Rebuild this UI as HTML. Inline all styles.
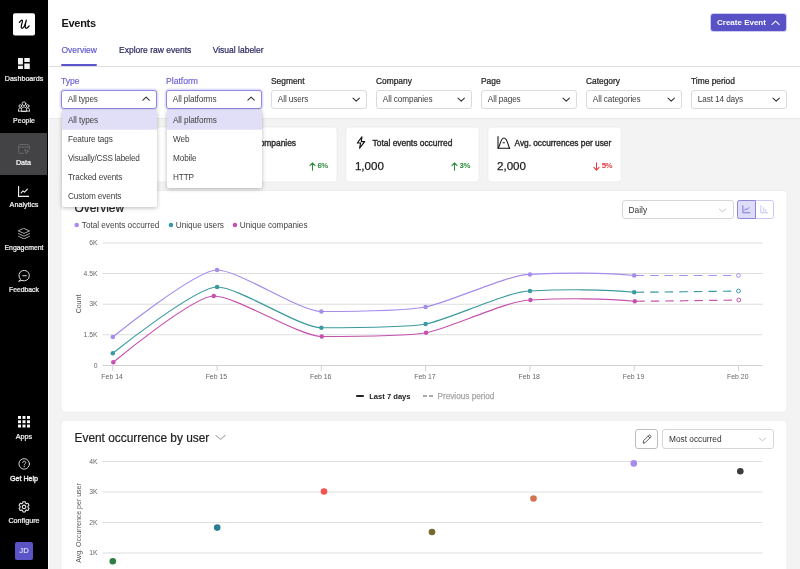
<!DOCTYPE html>
<html>
<head>
<meta charset="utf-8">
<title>Events</title>
<style>
*{box-sizing:border-box;margin:0;padding:0}
html,body{width:800px;height:569px;overflow:hidden}
body{font-family:"Liberation Sans",sans-serif;background:#f3f3f3;color:#222;position:relative;font-size:8.5px}
#wrap{position:absolute;left:0;top:0;width:800px;height:569px;overflow:hidden;will-change:transform}
.abs{position:absolute}
.t{position:absolute;white-space:nowrap;line-height:1}
/* sidebar */
#side{position:absolute;left:0;top:0;width:48px;height:569px;background:#000}
#side .lbl{position:absolute;left:0;width:48px;text-align:center;color:#f4f4f4;font-size:7.2px;line-height:10px;white-space:nowrap;-webkit-text-stroke:0.22px #f4f4f4}
#side svg{position:absolute}
/* header */
#head{position:absolute;left:48px;top:0;width:752px;height:118px;background:#fff}
#tabline{position:absolute;left:48px;top:66px;width:752px;height:1px;background:#dedede}
.flabel{position:absolute;top:75.6px;font-size:8.4px;line-height:10px;color:#222;font-weight:400;-webkit-text-stroke:0.22px #222;letter-spacing:0;white-space:nowrap}
.sel{position:absolute;top:90px;width:96px;height:18.5px;border:1px solid #dadadf;border-radius:3px;background:#fff}
.sel span{position:absolute;left:5.8px;top:4.2px;font-size:8.2px;letter-spacing:-0.1px;line-height:10px;color:#3d3d3d;white-space:nowrap}
.sel svg{position:absolute;right:5.8px;top:5.7px}
.sel.open{border-color:#8f88e6;border-radius:3px;box-shadow:0 0 0 1.5px rgba(150,142,235,.28)}
.dd{position:absolute;top:110px;width:96px;background:#fff;border-radius:2px;box-shadow:0 1px 4px rgba(0,0,0,.28)}
.dd div{height:19px;padding-left:6px;padding-top:1px;font-size:8.2px;letter-spacing:-0.1px;line-height:19px;color:#3d3d3d;white-space:nowrap}
.dd div.hl{background:#e0dff7;box-shadow:0 0.7px 0 #e0dff7}
/* cards */
.card{position:absolute;top:127px;width:133.5px;height:55px}
.card .ct{position:absolute;left:27px;top:10.8px;font-size:8.45px;font-weight:400;-webkit-text-stroke:0.36px #2a2a2a;letter-spacing:-0.02px;line-height:10px;color:#2a2a2a;white-space:nowrap}
.card .cv{position:absolute;left:9.3px;top:33.4px;font-size:11.6px;line-height:12px;color:#1e1e1e;-webkit-text-stroke:0.25px #1e1e1e;letter-spacing:0;white-space:nowrap}
.card .cp{position:absolute;right:9.2px;top:34.3px;font-size:7.8px;font-weight:700;line-height:9px;letter-spacing:-0.45px;white-space:nowrap}
.card svg{position:absolute}
.panel{position:absolute;left:61px;width:726px;background:#fff;border-radius:4px;box-shadow:0 0 2px rgba(0,0,0,.06)}
.ptitle{position:absolute;left:74.5px;font-size:11.9px;line-height:14px;color:#222;-webkit-text-stroke:0.2px #222;white-space:nowrap}
.box{position:absolute;border:1px solid #d6d6d6;border-radius:3px;background:#fff}
</style>
</head>
<body>
<div id="wrap">
<!-- SIDEBAR -->
<div id="side">
  
  <svg style="left:13px;top:13px" width="22" height="23" viewBox="0 0 22 23"><rect x="0" y="0.200" width="22" height="22.300" rx="2" fill="#fff"/><path d="M6.400 9.400C7.200 8.100 8.300 7 9.050 7.150C9.800 7.350 9.300 9 8.900 10.500C8.350 12.500 7.600 15.250 9.150 15.250C10.800 15.250 12.400 11 13.300 7.200C12.600 10 11.400 15.250 13.200 15.250C14.400 15.250 15.400 14.100 16.100 12.900" fill="none" stroke="#0a0a0a" stroke-width="1.250" stroke-linecap="round" stroke-linejoin="round"/></svg>

  <div class="abs" style="left:0;top:133px;width:47px;height:42px;background:#434345"></div>
  <!-- dashboards -->
  <svg style="left:18px;top:58.200px" width="11.800" height="11.300" viewBox="0 0 12 11.5"><path d="M0 0h5v6.600h-5zM6.400 0h5.600v4.100h-5.600zM0 8h5v3.500h-5zM6.400 5.500h5.600v6h-5.600z" fill="#f4f4f4"/></svg>
  <div class="lbl" style="top:74px;font-size:7.150px">Dashboards</div>
  <!-- people -->
  <svg style="left:18px;top:101.300px" width="12" height="10.700" viewBox="0 0 13 11.5"><g fill="none" stroke="#e9e9e9" stroke-width="0.950" stroke-linejoin="round" stroke-linecap="round"><circle cx="6.500" cy="2.900" r="2"/><circle cx="2.500" cy="5.400" r="1.450"/><circle cx="10.500" cy="5.400" r="1.450"/><path d="M3.700 10.900v-1.500c0-1.900 1.100-3 2.800-3s2.800 1.100 2.800 3v1.500z"/><path d="M0.600 10.900v-1.500c0-1.200.8-1.900 1.900-1.900.5 0 .9.100 1.200.300M12.400 10.900v-1.500c0-1.200-.8-1.900-1.900-1.900-.5 0-.9.100-1.200.300M0.600 10.900h11.800"/></g></svg>
  <div class="lbl" style="top:116px;font-size:7px">People</div>
  <!-- data -->
  <svg style="left:18px;top:144.200px" width="12" height="10.400" viewBox="0 0 13 11.5"><g fill="none" stroke="#707072" stroke-width="0.900" stroke-linejoin="round" stroke-linecap="round"><path d="M6 10.300H1.800c-.7 0-1.200-.5-1.200-1.200V1.800C.6 1.100 1.100.6 1.800.6h9.400c.7 0 1.200.5 1.200 1.200v4M.6 3.400h11.800"/><path d="M7.600 6.300l4.300 1.700-1.900.7-.7 1.900z"/></g></svg>
  <div class="lbl" style="top:158px;left:-0.500px;color:#fff">Data</div>
  <!-- analytics -->
  <svg style="left:17.900px;top:185.600px" width="11.400" height="11" viewBox="0 0 12 11.5"><g fill="none" stroke="#f2f2f2" stroke-width="1.200" stroke-linejoin="round" stroke-linecap="round"><path d="M0.600 0.500V10.900H11.500"/><path d="M3.300 7.300l2-2.200 1.600 1.300 3-3.100"/></g></svg>
  <div class="lbl" style="top:200px">Analytics</div>
  <!-- engagement -->
  <svg style="left:18px;top:227.500px" width="12" height="11.500" viewBox="0 0 12 11.5"><g fill="none" stroke="#c4c4c4" stroke-width="0.850" stroke-linejoin="round" stroke-linecap="round"><path d="M6 0.500L11.500 2.950L6 5.400L0.500 2.950z"/><path d="M0.500 5.600L6 8.200L11.500 5.600"/><path d="M0.500 8.300L6 10.900L11.500 8.300"/></g></svg>
  <div class="lbl" style="top:243px;font-size:6.900px">Engagement</div>
  <!-- feedback -->
  <svg style="left:17.800px;top:269.900px" width="12.900" height="11.900" viewBox="0 0 13 12"><g fill="none" stroke="#e6e6e6" stroke-width="0.950" stroke-linejoin="round" stroke-linecap="round"><path d="M2.300 9.300A5.300 5.300 0 1 1 4 10.500L1 11.300z"/><path d="M4.800 5.800h3.600"/></g></svg>
  <div class="lbl" style="top:285px;font-size:6.800px">Feedback</div>
  <!-- apps -->
  <svg style="left:18px;top:416.300px" width="12" height="11.500" viewBox="0 0 12 11.5"><g fill="#fafafa"><rect x="0" y="0" width="3" height="2.900"/><rect x="4.500" y="0" width="3" height="2.900"/><rect x="9" y="0" width="3" height="2.900"/><rect x="0" y="4.300" width="3" height="2.900"/><rect x="4.500" y="4.300" width="3" height="2.900"/><rect x="9" y="4.300" width="3" height="2.900"/><rect x="0" y="8.600" width="3" height="2.900"/><rect x="4.500" y="8.600" width="3" height="2.900"/><rect x="9" y="8.600" width="3" height="2.900"/></g></svg>
  <div class="lbl" style="top:432px">Apps</div>
  <!-- get help -->
  <svg style="left:17.800px;top:458.400px" width="12.400" height="12.400" viewBox="0 0 13 13"><g fill="none" stroke="#e6e6e6" stroke-width="0.950" stroke-linecap="round" stroke-linejoin="round"><circle cx="6.500" cy="6.200" r="5.500"/><path d="M4.900 4.900c0-1 .7-1.600 1.600-1.600s1.600.6 1.600 1.500c0 1.200-1.600 1.300-1.600 2.600"/></g><circle cx="6.500" cy="9" r="0.650" fill="#e6e6e6"/></svg>
  <div class="lbl" style="top:474px;font-size:7.100px;-webkit-text-stroke:0.350px #f4f4f4">Get Help</div>
  <!-- configure -->
  <svg style="left:17.900px;top:500.800px" width="12.100" height="12.100" viewBox="0 0 13 13"><g fill="none" stroke="#ececec" stroke-width="1.150" stroke-linejoin="round"><path d="M5.300 0.800h2.400l.4 1.500 1 .6 1.500-.4 1.200 2.100-1.100 1.100v1.200l1.100 1.100-1.200 2.100-1.500-.4-1 .6-.4 1.500H5.300l-.4-1.500-1-.6-1.500.4-1.200-2.100 1.100-1.100V5.700L1.200 4.600l1.200-2.100 1.500.4 1-.6z"/><circle cx="6.500" cy="6.300" r="1.900"/></g></svg>
  <div class="lbl" style="top:516px">Configure</div>
  <!-- avatar -->
  <div class="abs" style="left:15.200px;top:542.300px;width:17.600px;height:17.400px;border-radius:2px;background:#5a54c6"></div>
  <div class="lbl" style="top:546px;font-size:7.700px;color:#fff;-webkit-text-stroke:0">JD</div>
</div>
<!-- HEADER -->
<div id="head"></div>
<div id="tabline"></div>
<div class="abs" style="left:49px;top:118px;width:751px;height:1px;background:#e9e9e9"></div>
<div class="abs" style="left:48px;top:0;width:1px;height:569px;background:#fdfdfd"></div>

<div class="t" style="left:61.500px;top:16.700px;font-size:11px;font-weight:700;letter-spacing:-0.300px;line-height:12px;color:#151515">Events</div>
<!-- create event button -->
<div class="abs" style="left:710.500px;top:14px;width:75.500px;height:17px;border-radius:2.500px;background:#5852c6;box-shadow:0 0 0 1px #cfccf3"></div>
<div class="t" style="left:717px;top:18.300px;font-size:8px;font-weight:700;color:#fff;line-height:9px">Create Event</div>
<svg class="abs" style="left:771.300px;top:20px" width="9.200" height="5.500" viewBox="0 0 10 6"><path d="M1 5L5 1.200L9 5" fill="none" stroke="#fff" stroke-width="1.100" stroke-linecap="round" stroke-linejoin="round"/></svg>
<!-- tabs -->
<div class="t" style="left:61.500px;top:44.800px;font-size:8.500px;line-height:10px;color:#5d55cc;-webkit-text-stroke:0.150px #5d55cc">Overview</div>
<div class="t" style="left:119px;top:44.800px;font-size:8.500px;line-height:10px;color:#2b2960;-webkit-text-stroke:0.200px #2b2960">Explore raw events</div>
<div class="t" style="left:212.700px;top:44.800px;font-size:8.500px;line-height:10px;color:#2b2960;-webkit-text-stroke:0.200px #2b2960">Visual labeler</div>
<div class="abs" style="left:61px;top:64px;width:35.500px;height:2px;background:#5d55cc;border-radius:1px"></div>
<svg class="abs" style="left:0;top:0" width="800" height="569" viewBox="0 0 800 569"><g fill="#fff" stroke="#eaeaea" stroke-width="0.800"><rect x="61" y="190.500" width="726" height="221.600" rx="4"/><rect x="61" y="420.200" width="726" height="170" rx="4"/><rect x="61.5" y="127" width="133.500" height="55" rx="3.500"/><rect x="203.6" y="127" width="133.500" height="55" rx="3.500"/><rect x="345.7" y="127" width="133.500" height="55" rx="3.500"/><rect x="487.8" y="127" width="133.500" height="55" rx="3.500"/></g></svg>
<!-- filter labels -->
<div class="flabel" style="left:61px;color:#6a60d4;-webkit-text-stroke:0.150px #6a60d4;font-size:8.600px">Type</div>
<div class="flabel" style="left:166px;color:#6a60d4;-webkit-text-stroke:0.150px #6a60d4;font-size:8.600px">Platform</div>
<div class="flabel" style="left:271px">Segment</div>
<div class="flabel" style="left:376px">Company</div>
<div class="flabel" style="left:481px">Page</div>
<div class="flabel" style="left:586px">Category</div>
<div class="flabel" style="left:691px">Time period</div>
<!-- selects -->
<div class="sel open" style="left:61px"><span>All types</span><svg width="8.200" height="5.200" viewBox="0 0 9 6" style="top:4.600px;right:5.700px"><path d="M0.800 4.800L4.500 1.300L8.200 4.800" fill="none" stroke="#333" stroke-width="1.250" stroke-linecap="round" stroke-linejoin="round"/></svg></div>
<div class="sel open" style="left:166px"><span>All platforms</span><svg width="8.200" height="5.200" viewBox="0 0 9 6" style="top:4.600px;right:5.700px"><path d="M0.800 4.800L4.500 1.300L8.200 4.800" fill="none" stroke="#333" stroke-width="1.250" stroke-linecap="round" stroke-linejoin="round"/></svg></div>
<div class="sel" style="left:271px"><span>All users</span><svg width="8.400" height="5.200" viewBox="0 0 9 6" style="top:5.500px;right:5.600px"><path d="M0.800 1.200L4.500 4.700L8.200 1.200" fill="none" stroke="#333" stroke-width="1.250" stroke-linecap="round" stroke-linejoin="round"/></svg></div>
<div class="sel" style="left:376px"><span>All companies</span><svg width="8.400" height="5.200" viewBox="0 0 9 6" style="top:5.500px;right:5.600px"><path d="M0.800 1.200L4.500 4.700L8.200 1.200" fill="none" stroke="#333" stroke-width="1.250" stroke-linecap="round" stroke-linejoin="round"/></svg></div>
<div class="sel" style="left:481px"><span>All pages</span><svg width="8.400" height="5.200" viewBox="0 0 9 6" style="top:5.500px;right:5.600px"><path d="M0.800 1.200L4.500 4.700L8.200 1.200" fill="none" stroke="#333" stroke-width="1.250" stroke-linecap="round" stroke-linejoin="round"/></svg></div>
<div class="sel" style="left:586px"><span>All categories</span><svg width="8.400" height="5.200" viewBox="0 0 9 6" style="top:5.500px;right:5.600px"><path d="M0.800 1.200L4.500 4.700L8.200 1.200" fill="none" stroke="#333" stroke-width="1.250" stroke-linecap="round" stroke-linejoin="round"/></svg></div>
<div class="sel" style="left:691px"><span>Last 14 days</span><svg width="8.400" height="5.200" viewBox="0 0 9 6" style="top:5.500px;right:5.600px"><path d="M0.800 1.200L4.500 4.700L8.200 1.200" fill="none" stroke="#333" stroke-width="1.250" stroke-linecap="round" stroke-linejoin="round"/></svg></div>

<div class="card" style="left:61.4px"><div class="ct">Unique users</div><div class="cv">1,000</div><div class="cp" style="color:#2f8a3c">5%</div><svg style="right:19px;top:34.500px" width="7" height="9" viewBox="0 0 7 9"><path d="M3.500 8.300V1M0.900 3.600L3.500 0.900L6.100 3.600" fill="none" stroke="#2f8a3c" stroke-width="1.050" stroke-linecap="round" stroke-linejoin="round"/></svg></div>
<div class="card" style="left:203.5px"><div class="ct" style="left:23px">Unique companies</div><div class="cv">1,000</div><div class="cp" style="color:#2f8a3c">6%</div><svg style="right:21.5px;top:34.500px" width="7" height="9" viewBox="0 0 7 9"><path d="M3.500 8.300V1M0.900 3.600L3.500 0.900L6.100 3.600" fill="none" stroke="#2f8a3c" stroke-width="1.050" stroke-linecap="round" stroke-linejoin="round"/></svg></div>
<div class="card" style="left:345.6px">
 <svg style="left:10.500px;top:9px" width="10" height="13" viewBox="0 0 10 13"><path d="M5.900 0.900L1.300 7h3.300l-1 5.100L8.700 5.600H5.300z" fill="none" stroke="#111" stroke-width="1.150" stroke-linejoin="round"/></svg>
 <div class="ct">Total events occurred</div><div class="cv">1,000</div><div class="cp" style="color:#2f8a3c">3%</div><svg style="right:21.5px;top:34.500px" width="7" height="9" viewBox="0 0 7 9"><path d="M3.500 8.300V1M0.900 3.600L3.500 0.900L6.100 3.600" fill="none" stroke="#2f8a3c" stroke-width="1.050" stroke-linecap="round" stroke-linejoin="round"/></svg></div>
<div class="card" style="left:487.7px">
 <svg style="left:9.500px;top:9px" width="14" height="13" viewBox="0 0 14 13"><g fill="none" stroke="#111" stroke-width="1.050" stroke-linejoin="round" stroke-linecap="round"><path d="M1 0.600V12.300H12.800"/><path d="M1.200 12.200C3.300 9.500 3.600 2 6.900 2s3.700 6 5.600 10.200"/><path d="M6.100 6.800h1.300"/></g></svg>
 <div class="ct" style="font-size:8.350px;left:26.800px">Avg. occurrences per user</div><div class="cv">2,000</div><div class="cp" style="color:#e23b3b">5%</div><svg style="right:21.5px;top:34.500px" width="7" height="9" viewBox="0 0 7 9"><path d="M3.500 0.700V8M0.900 5.400L3.500 8.100L6.100 5.400" fill="none" stroke="#e23b3b" stroke-width="1.050" stroke-linecap="round" stroke-linejoin="round"/></svg></div>



<div class="ptitle" style="top:201px">Overview</div>
<!-- daily select + toggle -->
<div class="box" style="left:622px;top:200px;width:111.500px;height:19px"></div>
<div class="t" style="left:628.500px;top:204.600px;font-size:8.400px;line-height:10px;color:#333">Daily</div>
<svg class="abs" style="left:718.300px;top:207.600px;transform:scale(0.880)" width="9" height="5" viewBox="0 0 9 5"><path d="M0.700 0.700L4.500 4L8.300 0.700" fill="none" stroke="#b5b5b5" stroke-width="0.900" stroke-linecap="round" stroke-linejoin="round"/></svg>
<div class="abs" style="left:737px;top:200px;width:37px;height:18.600px;border:1px solid #cbc7f2;border-radius:2.500px;background:#fff"></div>
<div class="abs" style="left:737px;top:200px;width:19px;height:18.600px;border:1px solid #8f87de;border-radius:2.500px 0 0 2.500px;background:#dedcf8"></div>
<svg class="abs" style="left:742px;top:205.400px" width="8.600" height="8.600" viewBox="0 0 10 10"><g fill="none" stroke="#5d55cc" stroke-width="0.850" stroke-linecap="round" stroke-linejoin="round"><path d="M1 0.800V9H9.200"/><path d="M2.600 6.300l1.800-1.900 1.400 1.100 2.400-2.500"/></g></svg>
<svg class="abs" style="left:759.800px;top:205.400px" width="8.600" height="8.600" viewBox="0 0 10 10"><g fill="none" stroke="#b3aeea" stroke-width="0.850" stroke-linecap="round"><path d="M1 0.800V9H9.200"/><path d="M4.300 3.200V7.400M6.600 5.400V7.400" stroke-width="0.800"/></g></svg>
<!-- legend top -->
<div class="t" style="left:81.800px;top:221px;font-size:8.250px;letter-spacing:-0.040px;line-height:10px;color:#444">Total events occurred</div>
<div class="t" style="left:175.800px;top:221px;font-size:8.250px;letter-spacing:-0.040px;line-height:10px;color:#444">Unique users</div>
<div class="t" style="left:239.800px;top:221px;font-size:8.250px;letter-spacing:-0.040px;line-height:10px;color:#444">Unique companies</div>
<!--C1--><svg class="abs" style="left:0;top:0" width="800" height="569" viewBox="0 0 800 569">
<path d="M102.500 243 H762.500" stroke="#dedede" stroke-width="1" fill="none"/>
<path d="M102.500 273.5 H762.500" stroke="#dedede" stroke-width="1" fill="none"/>
<path d="M102.500 304.25 H762.500" stroke="#dedede" stroke-width="1" fill="none"/>
<path d="M102.500 334.75 H762.500" stroke="#dedede" stroke-width="1" fill="none"/>
<path d="M102.500 365.500 H762.500" stroke="#d2d2d2" stroke-width="1" fill="none"/>
<path d="M112.8 365.500 V371" stroke="#d2d2d2" stroke-width="1" fill="none"/>
<path d="M217.08 365.500 V371" stroke="#d2d2d2" stroke-width="1" fill="none"/>
<path d="M321.36 365.500 V371" stroke="#d2d2d2" stroke-width="1" fill="none"/>
<path d="M425.64 365.500 V371" stroke="#d2d2d2" stroke-width="1" fill="none"/>
<path d="M529.92 365.500 V371" stroke="#d2d2d2" stroke-width="1" fill="none"/>
<path d="M634.2 365.500 V371" stroke="#d2d2d2" stroke-width="1" fill="none"/>
<path d="M738.48 365.500 V371" stroke="#d2d2d2" stroke-width="1" fill="none"/>
<path d="M112.8 337C112.8 337 195.35 270 217.08 270C238.8 270 299.63 311.5 321.36 311.5C343.09 311.5 403.92 310.86 425.64 307C447.37 303.14 508.19 274.4 529.92 274.4C559.64 272.72 606.47 272.26 634.2 275.5" fill="none" stroke="#a68cec" stroke-width="1.200"/>
<path d="M634.2 275.5C655.92 275.5 738.48 275.5 738.48 275.5" fill="none" stroke="#a68cec" stroke-width="1.200" stroke-dasharray="8.400 6.100" stroke-dashoffset="-1.600"/>
<circle cx="112.8" cy="337" r="2.250" fill="#a68cec"/>
<circle cx="217.08" cy="270" r="2.250" fill="#a68cec"/>
<circle cx="321.36" cy="311.5" r="2.250" fill="#a68cec"/>
<circle cx="425.64" cy="307" r="2.250" fill="#a68cec"/>
<circle cx="529.92" cy="274.4" r="2.250" fill="#a68cec"/>
<circle cx="634.2" cy="275.5" r="2.250" fill="#a68cec"/>
<circle cx="738.48" cy="275.5" r="1.900" fill="#fff" stroke="#a68cec" stroke-width="1"/>
<path d="M112.8 353.25C112.8 353.25 195.35 287 217.08 287C238.8 287 299.63 327.75 321.36 327.75C343.09 327.75 403.92 327.75 425.64 324C447.37 320.25 508.19 291 529.92 291C559.64 289.32 606.47 289.01 634.2 292.25" fill="none" stroke="#3b9a9e" stroke-width="1.200"/>
<path d="M634.2 292.25C655.92 292.25 738.48 291 738.48 291" fill="none" stroke="#3b9a9e" stroke-width="1.200" stroke-dasharray="8.400 6.100" stroke-dashoffset="-1.600"/>
<circle cx="112.8" cy="353.25" r="2.250" fill="#3b9a9e"/>
<circle cx="217.08" cy="287" r="2.250" fill="#3b9a9e"/>
<circle cx="321.36" cy="327.75" r="2.250" fill="#3b9a9e"/>
<circle cx="425.64" cy="324" r="2.250" fill="#3b9a9e"/>
<circle cx="529.92" cy="291" r="2.250" fill="#3b9a9e"/>
<circle cx="634.2" cy="292.25" r="2.250" fill="#3b9a9e"/>
<circle cx="738.48" cy="291" r="1.900" fill="#fff" stroke="#3b9a9e" stroke-width="1"/>
<path d="M113.3 362.25C113.3 362.25 192.85 296 213.78 296C236.28 296 299.26 336.5 321.76 336.5C343.48 336.5 404.31 336.5 426.04 332.75C447.79 329 508.67 300 530.42 300C560.17 298.32 607.05 298.01 634.8 301.25" fill="none" stroke="#c552ae" stroke-width="1.200"/>
<path d="M634.8 301.25C656.46 301.25 738.78 300 738.78 300" fill="none" stroke="#c552ae" stroke-width="1.200" stroke-dasharray="8.400 6.100" stroke-dashoffset="-1.600"/>
<circle cx="113.3" cy="362.25" r="2.250" fill="#c552ae"/>
<circle cx="213.78" cy="296" r="2.250" fill="#c552ae"/>
<circle cx="321.76" cy="336.5" r="2.250" fill="#c552ae"/>
<circle cx="426.04" cy="332.75" r="2.250" fill="#c552ae"/>
<circle cx="530.42" cy="300" r="2.250" fill="#c552ae"/>
<circle cx="634.8" cy="301.25" r="2.250" fill="#c552ae"/>
<circle cx="738.78" cy="300" r="1.900" fill="#fff" stroke="#c552ae" stroke-width="1"/>
<circle cx="76.7" cy="225" r="2.300" fill="#a68cec"/>
<circle cx="171" cy="225" r="2.300" fill="#3b9a9e"/>
<circle cx="235" cy="225" r="2.300" fill="#c552ae"/>
</svg><!--/C1-->
<div class="t" style="left:57.500px;width:40px;text-align:right;font-size:6.800px;top:239.2px;line-height:8px;color:#666">6K</div>
<div class="t" style="left:57.500px;width:40px;text-align:right;font-size:6.800px;top:269.7px;line-height:8px;color:#666">4.5K</div>
<div class="t" style="left:57.500px;width:40px;text-align:right;font-size:6.800px;top:300.45px;line-height:8px;color:#666">3K</div>
<div class="t" style="left:57.500px;width:40px;text-align:right;font-size:6.800px;top:330.95px;line-height:8px;color:#666">1.5K</div>
<div class="t" style="left:57.500px;width:40px;text-align:right;font-size:6.800px;top:361.7px;line-height:8px;color:#666">0</div>
<div class="t" style="left:92.10px;width:40px;text-align:center;top:372.700px;font-size:6.900px;line-height:8px;color:#666">Feb 14</div>
<div class="t" style="left:196.38px;width:40px;text-align:center;top:372.700px;font-size:6.900px;line-height:8px;color:#666">Feb 15</div>
<div class="t" style="left:300.66px;width:40px;text-align:center;top:372.700px;font-size:6.900px;line-height:8px;color:#666">Feb 16</div>
<div class="t" style="left:404.94px;width:40px;text-align:center;top:372.700px;font-size:6.900px;line-height:8px;color:#666">Feb 17</div>
<div class="t" style="left:509.22px;width:40px;text-align:center;top:372.700px;font-size:6.900px;line-height:8px;color:#666">Feb 18</div>
<div class="t" style="left:613.50px;width:40px;text-align:center;top:372.700px;font-size:6.900px;line-height:8px;color:#666">Feb 19</div>
<div class="t" style="left:717.78px;width:40px;text-align:center;top:372.700px;font-size:6.900px;line-height:8px;color:#666">Feb 20</div>
<div class="t" style="left:58.900px;top:300.300px;width:40px;text-align:center;font-size:7px;line-height:8px;color:#555;transform:rotate(-90deg)">Count</div>

<div class="abs" style="left:355.800px;top:395.300px;width:8px;height:1.800px;background:#222;border-radius:1px"></div>
<div class="t" style="left:369.200px;top:391.500px;font-size:7.600px;font-weight:700;line-height:10px;color:#222">Last 7 days</div>
<div class="abs" style="left:423px;top:395.400px;width:4px;height:1.600px;background:#aaa"></div><div class="abs" style="left:428.500px;top:395.400px;width:4px;height:1.600px;background:#aaa"></div>
<div class="t" style="left:437.500px;top:391.500px;font-size:8.200px;line-height:10px;color:#a6a6a6;-webkit-text-stroke:0.250px #a6a6a6">Previous period</div>


<div class="ptitle" style="top:431px">Event occurrence by user</div>
<svg class="abs" style="left:215.500px;top:434.800px;transform:scale(1.250)" width="9" height="5" viewBox="0 0 9 5"><path d="M0.700 0.700L4.500 4L8.300 0.700" fill="none" stroke="#b5b5b5" stroke-width="0.900" stroke-linecap="round" stroke-linejoin="round"/></svg>
<div class="box" style="left:635px;top:429px;width:23px;height:20px;border-color:#bdbdbd;border-radius:3px"></div>
<svg class="abs" style="left:641.500px;top:434px" width="10" height="10" viewBox="0 0 10 10"><g fill="none" stroke="#333" stroke-width="0.800" stroke-linejoin="round" stroke-linecap="round"><path d="M1.200 8.800l.5-2.300L6.900 1.300c.4-.4 1-.4 1.400 0l.4.400c.4.400.4 1 0 1.400L3.500 8.300z"/><path d="M6.100 2.100l1.800 1.800"/></g></svg>
<div class="box" style="left:662px;top:429px;width:112px;height:20px"></div>
<div class="t" style="left:669px;top:434.200px;font-size:8.300px;line-height:10px;color:#333">Most occurred</div>
<svg class="abs" style="left:757.800px;top:436.900px;transform:scale(0.880)" width="9" height="5" viewBox="0 0 9 5"><path d="M0.700 0.700L4.500 4L8.300 0.700" fill="none" stroke="#b5b5b5" stroke-width="0.900" stroke-linecap="round" stroke-linejoin="round"/></svg>
<!--C2--><svg class="abs" style="left:0;top:0" width="800" height="569" viewBox="0 0 800 569">
<path d="M102.500 461.5 H762.500" stroke="#dedede" stroke-width="1" fill="none"/>
<path d="M102.500 492 H762.500" stroke="#dedede" stroke-width="1" fill="none"/>
<path d="M102.500 522.5 H762.500" stroke="#dedede" stroke-width="1" fill="none"/>
<path d="M102.500 553 H762.500" stroke="#dedede" stroke-width="1" fill="none"/>
<circle cx="112.8" cy="561.2" r="3.300" fill="#2f7d43"/>
<circle cx="217.2" cy="527.6" r="3.300" fill="#2b7f93"/>
<circle cx="324" cy="491.5" r="3.300" fill="#f0544f"/>
<circle cx="432" cy="532" r="3.300" fill="#76682f"/>
<circle cx="533.5" cy="498.5" r="3.300" fill="#d4734f"/>
<circle cx="633.8" cy="463.4" r="3.300" fill="#a68cec"/>
<circle cx="740.3" cy="471.2" r="3.300" fill="#3c3c3c"/>
</svg><!--/C2-->
<div class="t" style="left:57.500px;width:40px;text-align:right;font-size:6.800px;top:457.7px;line-height:8px;color:#666">4K</div>
<div class="t" style="left:57.500px;width:40px;text-align:right;font-size:6.800px;top:488.2px;line-height:8px;color:#666">3K</div>
<div class="t" style="left:57.500px;width:40px;text-align:right;font-size:6.800px;top:518.7px;line-height:8px;color:#666">2K</div>
<div class="t" style="left:57.500px;width:40px;text-align:right;font-size:6.800px;top:549.2px;line-height:8px;color:#666">1K</div>
<div class="t" style="left:28.900px;top:519px;width:100px;text-align:center;font-size:7px;line-height:8px;color:#555;transform:rotate(-90deg)">Avg. Occurrence per user</div>

<!-- dropdowns -->
<div class="dd" style="left:62px;width:95px;height:97px"><div class="hl">All types</div><div>Feature tags</div><div style="letter-spacing:-0.210px">Visually/CSS labeled</div><div>Tracked events</div><div>Custom events</div></div>
<div class="dd" style="left:167px;width:95px;height:78px"><div class="hl">All platforms</div><div>Web</div><div>Mobile</div><div>HTTP</div></div>
</div>
</body>
</html>
